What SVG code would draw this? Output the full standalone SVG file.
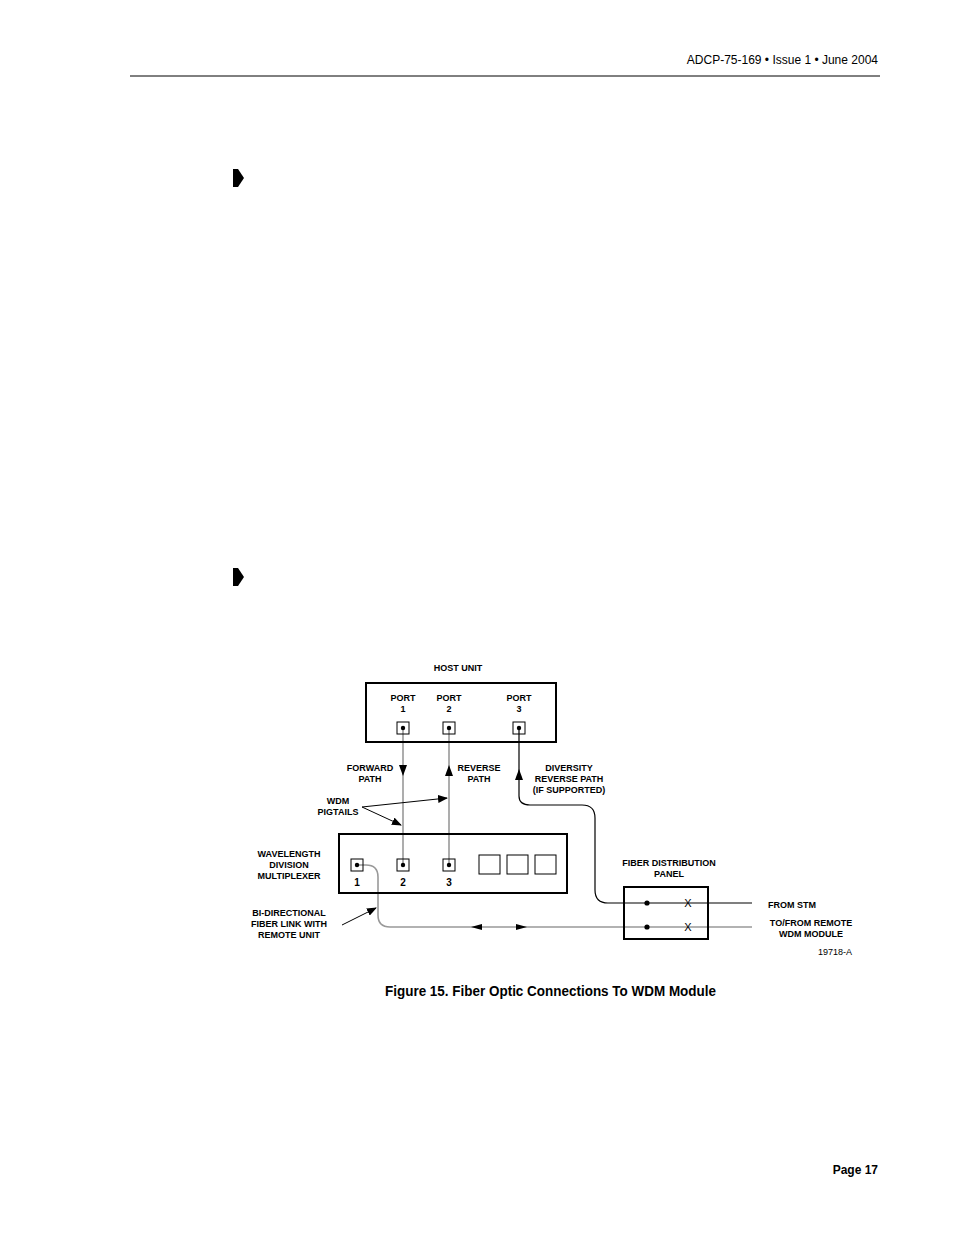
<svg xmlns="http://www.w3.org/2000/svg" width="954" height="1235" viewBox="0 0 954 1235">
<style>
text{font-family:"Liberation Sans",Arial,sans-serif;font-weight:bold;fill:#000}
.s{font-size:9px;text-anchor:middle}
.b{fill:none;stroke:#000;stroke-width:2}
.t{fill:none;stroke:#000;stroke-width:1}
.g{fill:none;stroke:#999;stroke-width:1.6}
.k{fill:none;stroke:#000;stroke-width:1.2}
</style>
<defs>
<marker id="a" markerWidth="10" markerHeight="8" refX="9" refY="4" orient="auto" markerUnits="userSpaceOnUse"><path d="M0,0L10,4L0,8z" fill="#000"/></marker>
</defs>
<rect width="954" height="1235" fill="#fff"/>
<text x="878" y="64" style="font-weight:normal;font-size:12px" text-anchor="end">ADCP-75-169 • Issue 1 • June 2004</text>
<line x1="130" y1="76" x2="880" y2="76" stroke="#000" stroke-width="1"/>
<path d="M233,169h5l6,9l-6,9h-5z" fill="#000"/>
<path d="M233,568h5l6,9l-6,9h-5z" fill="#000"/>
<text x="878" y="1174" style="font-size:12px" text-anchor="end">Page 17</text>
<text x="385" y="996" style="font-size:14px" textLength="331" lengthAdjust="spacingAndGlyphs">Figure 15. Fiber Optic Connections To WDM Module</text>

<g id="connectors">
<line class="g" x1="403" y1="728" x2="403" y2="865"/>
<line class="g" x1="449" y1="728" x2="449" y2="865"/>
<path class="g" d="M357,865H366Q378,865 378,877V915Q378,927 390,927H752"/>
<path class="k" d="M519,728V796Q519,805 530,805H582Q595,805 595,818V890Q595,903 608,903H752"/>
<path d="M399,765L403,776L407,765z" fill="#000"/>
<path d="M445,776L449,765L453,776z" fill="#000"/>
<path d="M515,780L519,769L523,780z" fill="#000"/>
<path d="M482,924L471,927L482,930z" fill="#000"/>
<path d="M516,924L527,927L516,930z" fill="#000"/>
<line class="t" x1="362" y1="807" x2="447" y2="798" marker-end="url(#a)"/>
<line class="t" x1="362" y1="807" x2="401" y2="825" marker-end="url(#a)"/>
<line class="t" x1="342" y1="925" x2="376" y2="908" marker-end="url(#a)"/>
</g>

<g id="host">
<text class="s" x="458" y="671">HOST UNIT</text>
<rect class="b" x="366" y="683" width="190" height="59"/>
<text class="s" x="403" y="701">PORT</text><text class="s" x="403" y="712">1</text>
<text class="s" x="449" y="701">PORT</text><text class="s" x="449" y="712">2</text>
<text class="s" x="519" y="701">PORT</text><text class="s" x="519" y="712">3</text>
<rect class="t" x="397" y="722" width="12" height="12"/><circle cx="403" cy="728" r="2.2"/>
<rect class="t" x="443" y="722" width="12" height="12"/><circle cx="449" cy="728" r="2.2"/>
<rect class="t" x="513" y="722" width="12" height="12"/><circle cx="519" cy="728" r="2.2"/>
</g>

<g id="labels">
<text class="s" x="370" y="771">FORWARD</text><text class="s" x="370" y="782">PATH</text>
<text class="s" x="479" y="771">REVERSE</text><text class="s" x="479" y="782">PATH</text>
<text class="s" x="569" y="771">DIVERSITY</text><text class="s" x="569" y="782">REVERSE PATH</text><text class="s" x="569" y="793">(IF SUPPORTED)</text>
<text class="s" x="338" y="804">WDM</text><text class="s" x="338" y="815">PIGTAILS</text>
<text class="s" x="289" y="916">BI-DIRECTIONAL</text><text class="s" x="289" y="927">FIBER LINK WITH</text><text class="s" x="289" y="938">REMOTE UNIT</text>
</g>

<g id="wdm">
<text class="s" x="289" y="857">WAVELENGTH</text><text class="s" x="289" y="868">DIVISION</text><text class="s" x="289" y="879">MULTIPLEXER</text>
<rect class="b" x="339" y="834" width="228" height="59"/>
<rect class="t" x="351" y="859" width="12" height="12"/><circle cx="357" cy="865" r="2.2"/>
<rect class="t" x="397" y="859" width="12" height="12"/><circle cx="403" cy="865" r="2.2"/>
<rect class="t" x="443" y="859" width="12" height="12"/><circle cx="449" cy="865" r="2.2"/>
<rect class="t" x="479" y="855" width="21" height="19"/>
<rect class="t" x="507" y="855" width="21" height="19"/>
<rect class="t" x="535" y="855" width="21" height="19"/>
<text class="s" x="357" y="886" style="font-size:10px">1</text>
<text class="s" x="403" y="886" style="font-size:10px">2</text>
<text class="s" x="449" y="886" style="font-size:10px">3</text>
</g>

<g id="fdp">
<text class="s" x="669" y="866">FIBER DISTRIBUTION</text><text class="s" x="669" y="877">PANEL</text>
<rect class="b" x="624" y="887" width="84" height="52"/>
<circle cx="647" cy="903" r="2.6"/><circle cx="647" cy="927" r="2.6"/>
<text x="688" y="907" style="font-weight:normal;font-size:11px" text-anchor="middle">X</text>
<text x="688" y="931" style="font-weight:normal;font-size:11px" text-anchor="middle">X</text>
<text x="768" y="908" style="font-size:9px">FROM STM</text>
<text class="s" x="811" y="926">TO/FROM REMOTE</text><text class="s" x="811" y="937">WDM MODULE</text>
<text x="852" y="955" style="font-weight:normal;font-size:9px" text-anchor="end">19718-A</text>
</g>
</svg>
